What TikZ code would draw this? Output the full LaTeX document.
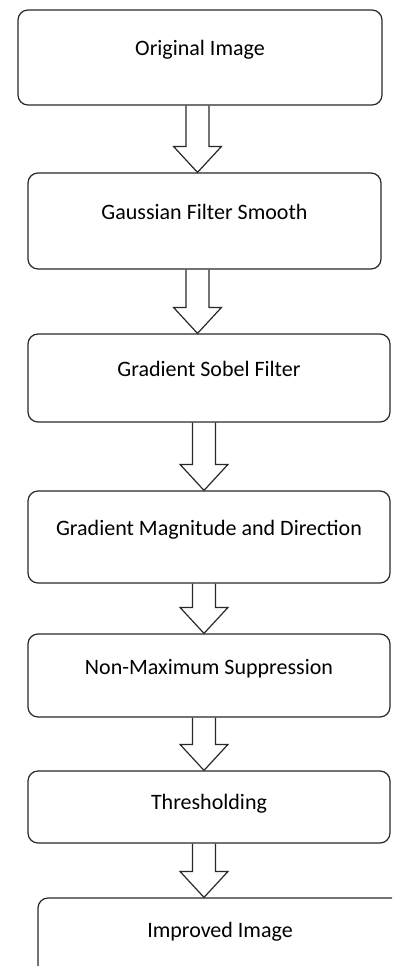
\documentclass[tikz,border=0pt]{standalone}
\usepackage{fontspec}
\setmainfont{Carlito}
\usetikzlibrary{calc}
\definecolor{boxline}{RGB}{40,40,40}

% hollow block arrow from one box down to the next, #3 = x of its axis
\newcommand{\flowarrow}[3]{%
  \draw[hollowarrow] let \p1=(#1.south), \p2=(#2.north) in
    (#3pt-11.5pt,\y1) -- (#3pt-11.5pt,\y2+26pt) -- (#3pt-24pt,\y2+26pt) -- (#3pt,\y2)
    -- (#3pt+24pt,\y2+26pt) -- (#3pt+11.5pt,\y2+26pt) -- (#3pt+11.5pt,\y1);}

\begin{document}
\begin{tikzpicture}[x=1pt, y=1pt,
    stepbox/.style={draw=boxline, line width=1.2pt, rounded corners=10pt, align=center,
      font=\fontsize{22}{26}\selectfont, text height=15pt, text depth=18pt, inner sep=0pt},
    hollowarrow/.style={draw=boxline, line width=1.2pt, line join=miter}]
        \clip (0,0) rectangle (392,-966);
        % Input
        \node[stepbox, minimum width=364pt, minimum height=95pt] (orig) at (200,-57.5) {Original Image};
        % Smoothing
        \node[stepbox, minimum width=353pt, minimum height=96pt] (gauss) at (204.5,-221) {Gaussian Filter Smooth};
        % Gradients
        \node[stepbox, minimum width=362pt, minimum height=88pt] (sobel) at (209,-378) {Gradient Sobel Filter};
        \node[stepbox, minimum width=362pt, minimum height=92pt] (gradmag) at (209,-537) {Gradient Magnitude and Direction};
        % Thinning and thresholding
        \node[stepbox, minimum width=362pt, minimum height=83pt] (nms) at (209,-675.5) {Non-Maximum Suppression};
        \node[stepbox, minimum width=362pt, minimum height=72pt, text depth=11pt] (thresh) at (209,-807) {Thresholding};
        % Output (runs off the page)
        \node[stepbox, minimum width=364pt, minimum height=81pt] (improved) at (220,-938.5) {Improved Image};
        % Arrows
        \flowarrow{orig}{gauss}{197.5}
        \flowarrow{gauss}{sobel}{197.5}
        \flowarrow{sobel}{gradmag}{204}
        \flowarrow{gradmag}{nms}{204}
        \flowarrow{nms}{thresh}{204}
        \flowarrow{thresh}{improved}{204}
      \end{tikzpicture}
\end{document}
